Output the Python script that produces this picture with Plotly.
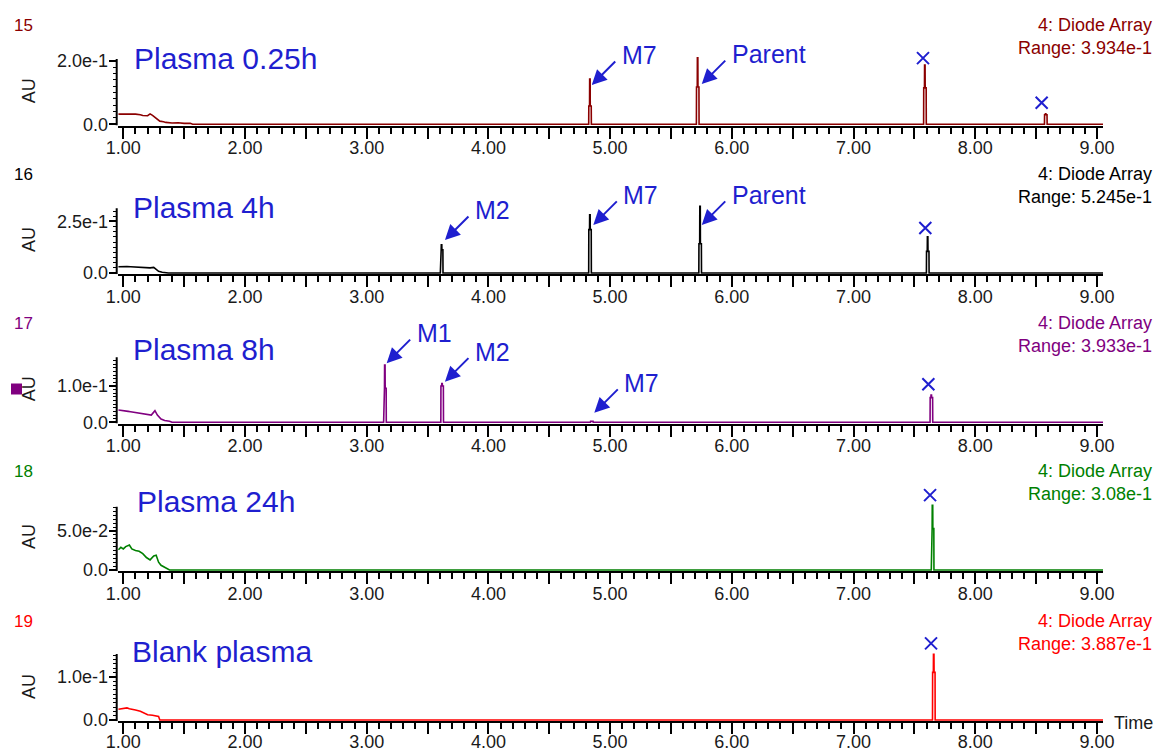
import plotly.graph_objects as go

W, H = 1160, 751

# ---------------- data ----------------
panel_ids = ["15", "16", "17", "18", "19"]
panel_names = ["Plasma 0.25h", "Plasma 4h", "Plasma 8h", "Plasma 24h", "Blank plasma"]
panel_colors = ["#8B0000", "#000000", "#800080", "#008000", "#FF0000"]
detector_labels = ["4: Diode Array"] * 5
range_labels = ["Range: 3.934e-1", "Range: 5.245e-1", "Range: 3.933e-1",
                "Range: 3.08e-1", "Range: 3.887e-1"]

# early (solvent front) region, time (min) and AU
early_t_15 = [0.96, 1.00, 1.03, 1.05, 1.08, 1.10, 1.14, 1.16, 1.20, 1.22, 1.24, 1.27, 1.30, 1.33, 1.35, 1.40, 1.45, 1.50, 1.55, 1.57]
early_au_15 = [0.032, 0.032, 0.033, 0.031, 0.032, 0.032, 0.030, 0.028, 0.027, 0.033, 0.028, 0.018, 0.010, 0.008, 0.006, 0.004, 0.005, 0.003, 0.003, 0.0]
early_t_16 = [0.96, 1.00, 1.02, 1.03, 1.06, 1.10, 1.14, 1.18, 1.22, 1.25, 1.27, 1.29, 1.32, 1.35, 1.37]
early_au_16 = [0.030, 0.031, 0.033, 0.031, 0.030, 0.028, 0.027, 0.026, 0.025, 0.027, 0.018, 0.008, 0.004, 0.003, 0.0]
early_t_17 = [0.96, 1.00, 1.04, 1.06, 1.08, 1.12, 1.14, 1.16, 1.20, 1.23, 1.26, 1.28, 1.31, 1.34, 1.38, 1.40]
early_au_17 = [0.034, 0.031, 0.030, 0.029, 0.028, 0.026, 0.025, 0.023, 0.021, 0.020, 0.032, 0.020, 0.009, 0.005, 0.003, 0.0]
early_t_18 = [0.96, 0.98, 1.00, 1.02, 1.05, 1.07, 1.10, 1.13, 1.16, 1.19, 1.22, 1.25, 1.27, 1.29, 1.31, 1.34, 1.37, 1.38]
early_au_18 = [0.026, 0.029, 0.027, 0.030, 0.032, 0.027, 0.025, 0.024, 0.021, 0.016, 0.013, 0.018, 0.019, 0.010, 0.006, 0.003, 0.001, 0.0]
early_t_19 = [0.96, 1.00, 1.03, 1.05, 1.08, 1.10, 1.14, 1.18, 1.20, 1.24, 1.27, 1.29, 1.30]
early_au_19 = [0.025, 0.026, 0.028, 0.026, 0.025, 0.023, 0.020, 0.015, 0.012, 0.011, 0.009, 0.008, 0.0]

# peaks: retention time, apex AU, shoulder AU
peak_rt_15 = [4.835, 5.72, 7.587, 8.58]
peak_apex_15 = [0.143, 0.210, 0.187, 0.033]
peak_sh_15 = [0.058, 0.118, 0.115, 0.030]
peak_rt_16 = [3.616, 4.835, 5.74, 7.61]
peak_apex_16 = [0.137, 0.282, 0.323, 0.175]
peak_sh_16 = [0.113, 0.210, 0.142, 0.105]
peak_rt_17 = [3.15, 3.62, 4.85, 7.64]
peak_apex_17 = [0.158, 0.107, 0.004, 0.075]
peak_sh_17 = [0.094, 0.100, 0.003, 0.068]
peak_rt_18 = [7.65]
peak_apex_18 = [0.083]
peak_sh_18 = [0.053]
peak_rt_19 = [7.66]
peak_apex_19 = [0.152]
peak_sh_19 = [0.110]

# blue "x" marks (unidentified / endogenous peaks)
xmark_t_15 = [7.571, 8.546]
xmark_au_15 = [0.209, 0.068]
xmark_t_16 = [7.59]
xmark_au_16 = [0.218]
xmark_t_17 = [7.615]
xmark_au_17 = [0.105]
xmark_t_18 = [7.629]
xmark_au_18 = [0.096]
xmark_t_19 = [7.637]
xmark_au_19 = [0.177]

# y tick labels per panel
ytick_vals = [[0, 0.1, 0.2], [0, 0.125, 0.25], [0, 0.05, 0.1, 0.15],
              [0, 0.025, 0.05, 0.075], [0, 0.05, 0.1, 0.15]]
ytick_text = [["0.0", "", "2.0e-1"], ["0.0", "", "2.5e-1"], ["0.0", "", "1.0e-1", ""],
              ["0.0", "", "5.0e-2", ""], ["0.0", "", "1.0e-1", ""]]
ytick_minor = [0.02, 0.025, 0.01, 0.005, 0.01]

xtick_vals = [1 + 0.5 * i for i in range(17)]
xtick_text = [("%.2f" % v) if v == int(v) else "" for v in xtick_vals]

# metabolite labels: (panel, text, arrow head time, arrow head AU)
labels = [
    (0, "M7", 4.849, 0.124), (0, "Parent", 5.753, 0.127),
    (1, "M2", 3.643, 0.160), (1, "M7", 4.862, 0.233), (1, "Parent", 5.753, 0.233),
    (2, "M1", 3.164, 0.163), (2, "M2", 3.643, 0.112), (2, "M7", 4.870, 0.026),
]

early_t = [early_t_15, early_t_16, early_t_17, early_t_18, early_t_19]
early_au = [early_au_15, early_au_16, early_au_17, early_au_18, early_au_19]
peak_rt = [peak_rt_15, peak_rt_16, peak_rt_17, peak_rt_18, peak_rt_19]
peak_apex = [peak_apex_15, peak_apex_16, peak_apex_17, peak_apex_18, peak_apex_19]
peak_sh = [peak_sh_15, peak_sh_16, peak_sh_17, peak_sh_18, peak_sh_19]
xmark_t = [xmark_t_15, xmark_t_16, xmark_t_17, xmark_t_18, xmark_t_19]
xmark_au = [xmark_au_15, xmark_au_16, xmark_au_17, xmark_au_18, xmark_au_19]

# ---------------- layout geometry (pixels) ----------------
baseline_px = [124.3, 273.0, 422.3, 570.0, 720.0]
scale_px = [316.5, 206.4, 363.0, 780.0, 433.0]
top_px = [59.0, 208.3, 357.3, 506.7, 654.0]   # top of drawn y-axis line
EXTRA = 26                                      # headroom for marks above axis top
X_LEFT, X_RIGHT = 117.7, 1103.0
T_MIN, T_MAX = 0.954, 9.05

FONT = "Liberation Sans, Arial, sans-serif"
BLUE = "#1F1FCF"
TICKC = "#1a1a1a"


def px(x):
    return x / W


def py(y):
    return 1 - y / H


def peak_outline(rt, ap, sh):
    off = [-0.011, -0.010, -0.004, -0.003, 0.001, 0.002, 0.010, 0.011]
    val = [0, sh, sh, ap, ap, sh, sh, 0]
    return [rt + o for o in off], val


fig = go.Figure()
annotations = []
shapes = []
layout = dict(
    width=W, height=H,
    margin=dict(l=0, r=0, t=0, b=0, autoexpand=False),
    paper_bgcolor="white", plot_bgcolor="white",
    showlegend=False,
    font=dict(family=FONT, size=18, color=TICKC),
)

for i in range(5):
    n = "" if i == 0 else str(i + 1)
    xa, ya = "x" + n, "y" + n
    xs = list(early_t[i])
    ys = list(early_au[i])
    for rt, ap, sh in zip(peak_rt[i], peak_apex[i], peak_sh[i]):
        ox, oy = peak_outline(rt, ap, sh)
        xs += ox
        ys += oy
    xs.append(T_MAX)
    ys.append(0.0)
    fig.add_trace(go.Scatter(x=xs, y=ys, mode="lines", xaxis=xa, yaxis=ya,
                             line=dict(color=panel_colors[i], width=1.6),
                             hoverinfo="skip"))
    fig.add_trace(go.Scatter(x=xmark_t[i], y=xmark_au[i], mode="markers", xaxis=xa, yaxis=ya,
                             marker=dict(symbol="x-thin", size=12, line=dict(color=BLUE, width=2)),
                             hoverinfo="skip"))

    b = baseline_px[i]
    s = scale_px[i]
    bottom = b + 1.2
    top_ext = top_px[i] - EXTRA
    ymin = -(bottom - b) / s
    ytop_axis = (b - top_px[i]) / s
    ymax = (b - top_ext) / s
    step = ytick_minor[i]
    minor_vals = [k * step for k in range(int(ytop_axis / step + 1e-9) + 1)]

    layout["xaxis" + n] = dict(
        domain=[px(X_LEFT), px(X_RIGHT)], range=[T_MIN, T_MAX], anchor=ya,
        showline=True, linecolor="black", linewidth=2, showgrid=False, zeroline=False,
        tickmode="array", tickvals=xtick_vals, ticktext=xtick_text,
        ticks="outside", ticklen=11, tickwidth=1.5, tickcolor="black",
        ticklabelstandoff=(-8 if i == 4 else -6), automargin=False,
        tickfont=dict(family=FONT, size=18, color=TICKC),
        minor=dict(tickmode="linear", tick0=0, dtick=0.1, ticks="outside",
                   ticklen=6, tickwidth=1.5, tickcolor="black"),
        fixedrange=True,
    )
    layout["yaxis" + n] = dict(
        domain=[py(bottom), py(top_ext)], range=[ymin, ymax], anchor=xa,
        showline=False, showgrid=False, zeroline=False,
        tickmode="array", tickvals=ytick_vals[i], ticktext=ytick_text[i],
        ticks="outside", ticklen=8, tickwidth=1.5, tickcolor="black",
        ticklabelstandoff=-3, automargin=False,
        tickfont=dict(family=FONT, size=18, color=TICKC),
        minor=dict(tickmode="array", tickvals=minor_vals, ticks="outside",
                   ticklen=4, tickwidth=1.2, tickcolor="black"),
        fixedrange=True,
    )
    shapes.append(dict(type="line", xref="paper", yref=ya,
                       x0=px(X_LEFT) - 1 / W, x1=px(X_LEFT) - 1 / W, y0=ymin, y1=ytop_axis,
                       line=dict(color="black", width=2)))

    annotations.append(dict(text=panel_ids[i], xref="paper", yref="paper",
                            x=px(12), y=py(b - 99), xanchor="left", yanchor="middle",
                            showarrow=False, font=dict(size=17, color=panel_colors[i], family=FONT)))
    annotations.append(dict(text="AU", xref="paper", yref="paper", textangle=-90,
                            x=px(29), y=py(b - 33), xanchor="center", yanchor="middle",
                            showarrow=False, font=dict(size=18, color=TICKC, family=FONT)))
    annotations.append(dict(text=detector_labels[i], xref="paper", yref="paper",
                            x=px(1154), y=py(b - 99), xanchor="right", yanchor="middle",
                            showarrow=False, font=dict(size=18, color=panel_colors[i], family=FONT)))
    annotations.append(dict(text=range_labels[i], xref="paper", yref="paper",
                            x=px(1154), y=py(b - 76), xanchor="right", yanchor="middle",
                            showarrow=False, font=dict(size=18, color=panel_colors[i], family=FONT)))

# sample names
name_pos = [(132, 58), (131, 208), (131, 349), (135, 501), (130, 651)]
for i, (lx, ly) in enumerate(name_pos):
    annotations.append(dict(text=panel_names[i], xref="paper", yref="paper",
                            x=px(lx), y=py(ly), xanchor="left", yanchor="middle",
                            showarrow=False, font=dict(size=30, color=BLUE, family=FONT)))

# metabolite labels with arrows
for (p, txt, hx, hy) in labels:
    n = "" if p == 0 else str(p + 1)
    annotations.append(dict(text="", x=hx, y=hy, xref="x" + n, yref="y" + n,
                            ax=25, ay=-25, showarrow=True, arrowhead=2, arrowsize=1.5,
                            arrowwidth=2, arrowcolor=BLUE, standoff=0))
    annotations.append(dict(text=txt, x=hx, y=hy, xref="x" + n, yref="y" + n,
                            xshift=28, yshift=30, xanchor="left", yanchor="middle",
                            showarrow=False, font=dict(size=25, color=BLUE, family=FONT)))

annotations.append(dict(text="Time", xref="paper", yref="paper", x=px(1112), y=py(723),
                        xanchor="left", yanchor="middle", showarrow=False,
                        font=dict(size=18, color=TICKC, family=FONT)))

shapes.append(dict(type="rect", xref="paper", yref="paper",
                   x0=px(11), x1=px(22), y0=py(394.5), y1=py(383.5),
                   fillcolor="#800080", line=dict(width=0)))

layout["annotations"] = annotations
layout["shapes"] = shapes
fig.update_layout(**layout)
fig.write_html("out.html", config={"displayModeBar": False},
               post_script="document.body.style.margin='0';document.body.style.overflow='hidden';")
